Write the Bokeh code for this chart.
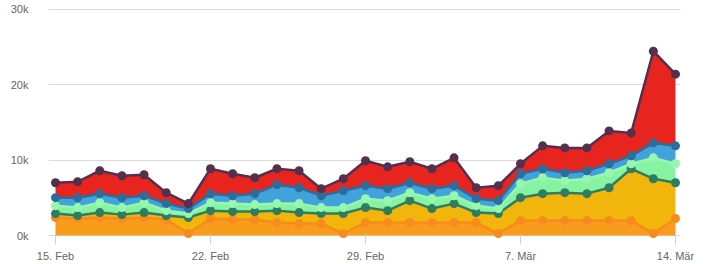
import numpy as np
from bokeh.plotting import figure
from bokeh.models import ColumnDataSource, FixedTicker, Range1d
from bokeh.embed import file_html
from bokeh.resources import INLINE

# ---- data (daily, 15 Feb .. 14 Mar) ----
days = list(range(29))
x_tick_pos = [0, 7, 14, 21, 28]
x_tick_labels = ["15. Feb", "22. Feb", "29. Feb", "7. Mär", "14. Mär"]
y_tick_pos = [0, 10000, 20000, 30000]
y_tick_labels = ["0k", "10k", "20k", "30k"]

orange = [2380, 2250, 2380, 2250, 2380, 2110, 260, 2250, 2110, 2110, 1720, 1590, 1590, 260,
          1720, 1720, 1720, 1720, 1720, 1720, 260, 1980, 1980, 1980, 1980, 1980, 1980, 260, 2250]
yellow = [530, 390, 660, 520, 660, 530, 2120, 1050, 1060, 1060, 1580, 1450, 1320, 2650,
          1980, 1580, 2900, 1850, 2510, 1320, 2650, 3040, 3570, 3700, 3570, 4360, 6870, 7270, 4750]
lgreen = [1050, 1060, 1320, 930, 1320, 660, 530, 1060, 1060, 930, 930, 1190, 790, 790,
          1190, 1320, 1060, 1320, 1050, 920, 660, 1850, 2110, 1590, 1980, 1980, 660, 2770, 2510]
blue = [1060, 1320, 1190, 1320, 920, 930, 660, 1190, 1050, 1450, 2510, 2110, 1580, 2240,
        1720, 1590, 1320, 1320, 1330, 930, 1050, 1320, 1190, 1050, 1060, 1190, 1060, 1980, 2380]
red = [1980, 2110, 3040, 2910, 2780, 1450, 660, 3300, 2910, 2110, 2110, 2250, 930, 1590,
       3300, 2900, 2780, 2640, 3690, 1450, 1990, 1320, 3040, 3300, 3030, 4360, 3040, 12160, 9510]

names = ["orange", "yellow", "lgreen", "blue", "red"]
fills = ["#f99c1c", "#f2b50c", "#86f2a2", "#42a3dc", "#e8241e"]
lines = ["#f68c1e", "#2d7d5e", "#96f7af", "#2c6d9c", "#52304e"]

data = dict(day=days, orange=orange, yellow=yellow, lgreen=lgreen, blue=blue, red=red)
cum = np.zeros(len(days))
for n in names:
    cum = cum + np.array(data[n], dtype=float)
    data[n + "_top"] = cum.copy()
src = ColumnDataSource(data)

p = figure(width=718, height=264, output_backend="svg", toolbar_location=None,
           x_range=Range1d(-0.316, 28.226), y_range=Range1d(-529, 30106),
           min_border_left=48, min_border_right=38, min_border_top=8, min_border_bottom=0)
p.outline_line_color = None
p.background_fill_color = "white"
p.xgrid.grid_line_color = None
p.ygrid.grid_line_color = "#d9d9d9"
p.ygrid.ticker = FixedTicker(ticks=y_tick_pos)

p.varea_stack(stackers=names, x="day", color=fills, source=src)
for n, lc in zip(names, lines):
    p.line("day", n + "_top", source=src, line_color=lc, line_width=2.5)
for n, lc in zip(names, lines):
    p.scatter("day", n + "_top", source=src, size=9, fill_color=lc, line_color=None)

yax = p.yaxis[0]
yax.ticker = FixedTicker(ticks=y_tick_pos)
yax.major_label_overrides = dict(zip(y_tick_pos, y_tick_labels))
yax.axis_line_color = None
yax.major_tick_line_color = None
yax.minor_tick_line_color = None
yax.major_tick_out = 0
yax.major_tick_in = 0
yax.major_label_standoff = 20
yax.major_label_text_font = "Liberation Sans"
yax.major_label_text_font_size = "11px"
yax.major_label_text_color = "#666666"

xax = p.xaxis[0]
xax.ticker = FixedTicker(ticks=x_tick_pos)
xax.major_label_overrides = dict(zip(x_tick_pos, x_tick_labels))
xax.axis_line_color = None
xax.major_tick_line_color = "#c8d2e0"
xax.minor_tick_line_color = None
xax.major_tick_in = 5
xax.major_tick_out = 5
xax.major_label_standoff = 5
xax.major_label_text_font = "Liberation Sans"
xax.major_label_text_font_size = "11px"
xax.major_label_text_color = "#666666"

open("out.html", "w").write(file_html(p, INLINE))
